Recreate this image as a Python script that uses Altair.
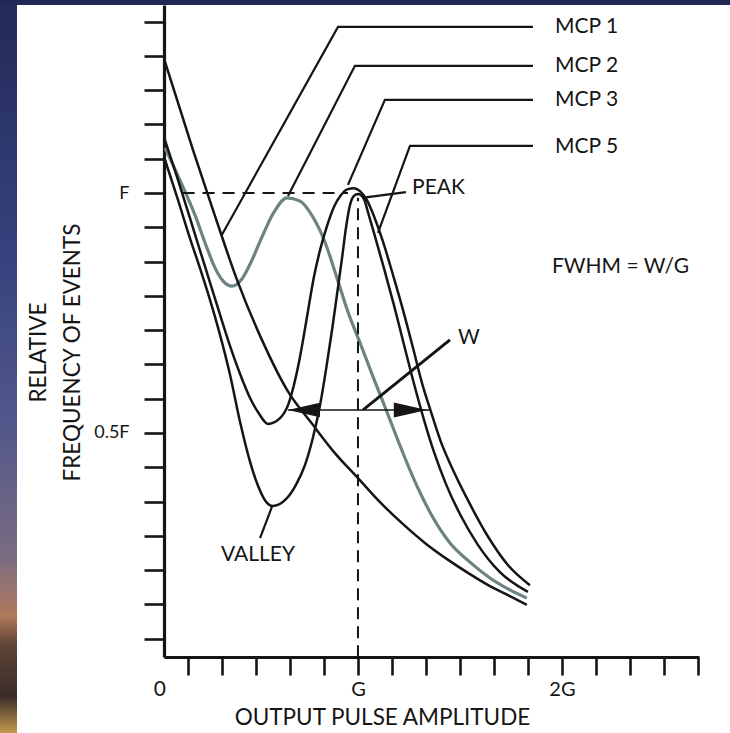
import altair as alt
import pandas as pd

# ---------------- data (x in units of G, y in units of F) ----------------
mcp1_x = [0.054, 0.191, 0.289, 0.407, 0.529, 0.652, 0.779, 0.887, 1.000, 1.108, 1.221, 1.328, 1.451, 1.549, 1.647, 1.745, 1.828]
mcp1_y = [1.273, 1.090, 0.965, 0.819, 0.694, 0.590, 0.517, 0.458, 0.406, 0.356, 0.310, 0.271, 0.233, 0.206, 0.181, 0.160, 0.142]

mcp2_x = [0.054, 0.127, 0.201, 0.260, 0.299, 0.338, 0.382, 0.431, 0.480, 0.529, 0.588, 0.652, 0.716, 0.779, 0.838, 0.897, 0.951, 1.010, 1.074, 1.142, 1.191, 1.240, 1.294, 1.353, 1.451, 1.549, 1.647, 1.745, 1.828]
mcp2_y = [1.094, 1.027, 0.954, 0.885, 0.844, 0.817, 0.806, 0.821, 0.860, 0.908, 0.960, 0.990, 0.983, 0.950, 0.898, 0.823, 0.752, 0.688, 0.617, 0.544, 0.490, 0.438, 0.385, 0.335, 0.271, 0.231, 0.198, 0.173, 0.156]

mcp3_x = [0.054, 0.118, 0.176, 0.225, 0.275, 0.324, 0.373, 0.422, 0.471, 0.515, 0.559, 0.618, 0.657, 0.686, 0.711, 0.735, 0.760, 0.784, 0.814, 0.848, 0.882, 0.917, 0.951, 0.980, 1.010, 1.044, 1.078, 1.123, 1.172, 1.221, 1.270, 1.314, 1.358, 1.407, 1.466, 1.539, 1.632, 1.735, 1.843]
mcp3_y = [1.110, 1.027, 0.948, 0.881, 0.813, 0.746, 0.681, 0.623, 0.573, 0.540, 0.519, 0.531, 0.558, 0.600, 0.648, 0.704, 0.767, 0.825, 0.881, 0.931, 0.971, 0.996, 1.008, 1.010, 1.004, 0.985, 0.952, 0.898, 0.829, 0.756, 0.677, 0.604, 0.544, 0.481, 0.423, 0.360, 0.288, 0.225, 0.183]

mcp5_x = [0.054, 0.118, 0.176, 0.225, 0.275, 0.324, 0.373, 0.422, 0.471, 0.510, 0.544, 0.583, 0.642, 0.696, 0.740, 0.779, 0.814, 0.843, 0.873, 0.897, 0.922, 0.941, 0.961, 0.980, 1.000, 1.029, 1.049, 1.083, 1.127, 1.176, 1.225, 1.275, 1.324, 1.373, 1.431, 1.505, 1.588, 1.696, 1.833]
mcp5_y = [1.069, 0.985, 0.906, 0.844, 0.777, 0.704, 0.621, 0.523, 0.440, 0.390, 0.360, 0.348, 0.360, 0.392, 0.433, 0.490, 0.558, 0.631, 0.715, 0.788, 0.865, 0.927, 0.975, 0.994, 0.998, 0.988, 0.960, 0.910, 0.844, 0.767, 0.685, 0.602, 0.527, 0.460, 0.394, 0.327, 0.267, 0.210, 0.169]

# leader lines (polylines)
lead_mcp1_x = [1.858, 0.902, 0.333]
lead_mcp1_y = [1.346, 1.346, 0.913]
lead_mcp2_x = [1.858, 0.985, 0.657]
lead_mcp2_y = [1.265, 1.265, 0.994]
lead_mcp3_x = [1.858, 1.132, 0.951]
lead_mcp3_y = [1.194, 1.194, 1.017]
lead_mcp5_x = [1.858, 1.255, 1.098]
lead_mcp5_y = [1.098, 1.098, 0.917]
lead_peak_x = [1.020, 1.235]
lead_peak_y = [0.990, 1.002]
lead_w_x = [1.025, 1.451]
lead_w_y = [0.548, 0.694]
lead_valley_x = [0.578, 0.520]
lead_valley_y = [0.346, 0.281]

# reference lines
f_line_x = [0.140, 0.951]
f_level = 1.0
g_line_y = [0.033, 0.990]
g_level = 1.0
w_span_x = [0.657, 1.353]
w_level = 0.548
arrow_left_x = 0.735
arrow_right_x = 1.257

# labels
label_text = ["MCP 1", "MCP 2", "MCP 3", "MCP 5", "PEAK", "FWHM = W/G", "W"]
label_x = [1.966, 1.966, 1.966, 1.966, 1.265, 1.951, 1.490]
label_y = [1.346, 1.265, 1.194, 1.096, 1.010, 0.846, 0.698]
center_text = ["VALLEY", "0"]
center_x = [0.510, 0.029]
center_y = [0.246, -0.035]

x_ticks = [k / 6 for k in range(1, 17)]
y_ticks = [k / 14 for k in range(1, 20)]

FONT = "Lato"
INK = "#151515"
GRAY = "#6d8383"

# ---------------- tables ----------------
curve_rows = []
for name, xs, ys in [("MCP 1", mcp1_x, mcp1_y), ("MCP 2", mcp2_x, mcp2_y),
                     ("MCP 3", mcp3_x, mcp3_y), ("MCP 5", mcp5_x, mcp5_y)]:
    for i, (a, b) in enumerate(zip(xs, ys)):
        curve_rows.append({"series": name, "i": i, "x": a, "y": b})
curves = pd.DataFrame(curve_rows)

lead_rows = []
for name, xs, ys in [("l1", lead_mcp1_x, lead_mcp1_y), ("l2", lead_mcp2_x, lead_mcp2_y),
                     ("l3", lead_mcp3_x, lead_mcp3_y), ("l5", lead_mcp5_x, lead_mcp5_y),
                     ("peak", lead_peak_x, lead_peak_y), ("valley", lead_valley_x, lead_valley_y)]:
    for i, (a, b) in enumerate(zip(xs, ys)):
        lead_rows.append({"id": name, "i": i, "x": a, "y": b})
leads = pd.DataFrame(lead_rows)
wlead = pd.DataFrame({"x": lead_w_x, "y": lead_w_y, "i": [0, 1]})

fline = pd.DataFrame({"x": f_line_x, "y": [f_level, f_level]})
gline = pd.DataFrame({"x": [g_level, g_level], "y": g_line_y})
wspan = pd.DataFrame({"x": w_span_x, "y": [w_level, w_level]})
arrow_l = pd.DataFrame({"x": [arrow_left_x], "y": [w_level]})
arrow_r = pd.DataFrame({"x": [arrow_right_x], "y": [w_level]})
labels = pd.DataFrame({"x": label_x, "y": label_y, "t": label_text})
clabels = pd.DataFrame({"x": center_x, "y": center_y, "t": center_text})

# ---------------- scales / axes ----------------
xscale = alt.Scale(domain=[0.049, 2.672], nice=False, zero=False)
yscale = alt.Scale(domain=[0.0333, 1.3917], nice=False, zero=False)

x_axis = alt.Axis(
    values=x_ticks, tickCount=60,
    labelExpr="abs(datum.value - 1) < 0.001 ? 'G' : (abs(datum.value - 2) < 0.001 ? '2G' : '')",
    tickSize=18, tickWidth=2.6, tickColor=INK, domainWidth=3.2, domainColor=INK,
    grid=False, labelFont=FONT, labelFontSize=20, labelColor=INK, labelPadding=4,
    labelOverlap=False, labelFlush=False,
    title="OUTPUT PULSE AMPLITUDE", titleFont=FONT, titleFontSize=22.5,
    titleFontWeight="normal", titleColor=INK, titleX=218, titleY=60,
    titleAlign="center", titleBaseline="middle",
)
y_axis = alt.Axis(
    values=y_ticks, tickCount=60,
    labelExpr="abs(datum.value - 1) < 0.001 ? 'F' : (abs(datum.value - 0.5) < 0.001 ? '0.5F' : '')",
    tickSize=20, tickWidth=2.6, tickColor=INK, domainWidth=3.2, domainColor=INK,
    grid=False, labelFont=FONT, labelFontSize=18, labelColor=INK, labelPadding=15,
    labelOverlap=False, labelFlush=False,
    title=["RELATIVE", "FREQUENCY OF EVENTS"], titleFont=FONT, titleFontSize=22.5,
    titleFontWeight="normal", titleColor=INK, titleAngle=270, titleX=-126, titleY=347,
    titleAlign="center", titleBaseline="middle", titleLineHeight=34,
)

X = alt.X("x:Q", scale=xscale, axis=x_axis)
Y = alt.Y("y:Q", scale=yscale, axis=y_axis)
Xn = alt.X("x:Q", scale=xscale)
Yn = alt.Y("y:Q", scale=yscale)

# ---------------- background (scan border) ----------------
one = alt.Data(values=[{"a": 1}])
left_strip = alt.Chart(one).mark_rect(
    color={"gradient": "linear", "x1": 0, "x2": 0, "y1": 0, "y2": 1,
           "stops": [{"offset": 0.0, "color": "#242a58"},
                     {"offset": 0.35, "color": "#36427e"},
                     {"offset": 0.58, "color": "#52588a"},
                     {"offset": 0.76, "color": "#7a6c82"},
                     {"offset": 0.84, "color": "#b07a5c"},
                     {"offset": 0.88, "color": "#5e4436"},
                     {"offset": 0.95, "color": "#3a2c28"},
                     {"offset": 1.0, "color": "#c49a50"}]}
).encode(x=alt.value(-164), x2=alt.value(-147), y=alt.value(-5), y2=alt.value(728))
top_strip = alt.Chart(one).mark_rect(color="#222856").encode(
    x=alt.value(-164), x2=alt.value(566), y=alt.value(-5), y2=alt.value(0))

# ---------------- layers ----------------
base_axes = alt.Chart(curves).mark_line(opacity=0).encode(x=X, y=Y)

black_curves = alt.Chart(curves).transform_filter(
    "datum.series != 'MCP 2'").mark_line(
    color=INK, strokeWidth=2.5, interpolate="monotone").encode(
    x=Xn, y=Yn, detail="series:N", order="i:Q")
gray_curve = alt.Chart(curves).transform_filter(
    "datum.series == 'MCP 2'").mark_line(
    color=GRAY, strokeWidth=3.2, interpolate="monotone").encode(
    x=Xn, y=Yn, order="i:Q")

leader_lines = alt.Chart(leads).mark_line(color=INK, strokeWidth=2.2).encode(
    x=Xn, y=Yn, detail="id:N", order="i:Q")
w_leader = alt.Chart(wlead).mark_line(color=INK, strokeWidth=3).encode(
    x=Xn, y=Yn, order="i:Q")

f_dash = alt.Chart(fline).mark_line(color=INK, strokeWidth=2, strokeDash=[12, 8]).encode(x=Xn, y=Yn)
g_dash = alt.Chart(gline).mark_line(color=INK, strokeWidth=2, strokeDash=[12, 7]).encode(x=Xn, y=Yn)
w_line = alt.Chart(wspan).mark_line(color=INK, strokeWidth=1.6).encode(x=Xn, y=Yn)

left_head = alt.Chart(arrow_l).mark_point(
    shape="M -1 0 L 1 -0.45 L 1 0.45 Z", size=1024, filled=True, color=INK, opacity=1
).encode(x=Xn, y=Yn)
right_head = alt.Chart(arrow_r).mark_point(
    shape="M 1 0 L -1 -0.45 L -1 0.45 Z", size=1100, filled=True, color=INK, opacity=1
).encode(x=Xn, y=Yn)

left_labels = alt.Chart(labels).mark_text(
    align="left", baseline="middle", font=FONT, fontSize=21, color=INK
).encode(x=Xn, y=Yn, text="t:N")
center_labels = alt.Chart(clabels).mark_text(
    align="center", baseline="middle", font=FONT, fontSize=21, color=INK
).encode(x=Xn, y=Yn, text="t:N")

chart = alt.layer(
    left_strip, top_strip, base_axes, gray_curve, black_curves, leader_lines, w_leader,
    f_dash, g_dash, w_line, left_head, right_head, left_labels, center_labels
).properties(
    width=535, height=652,
    autosize=alt.AutoSizeParams(type="none"),
    padding={"left": 164, "top": 5, "right": 31, "bottom": 76},
).configure(background="white").configure_view(stroke=None)

chart.save("out.html", embed_options={"renderer": "svg", "actions": False})
